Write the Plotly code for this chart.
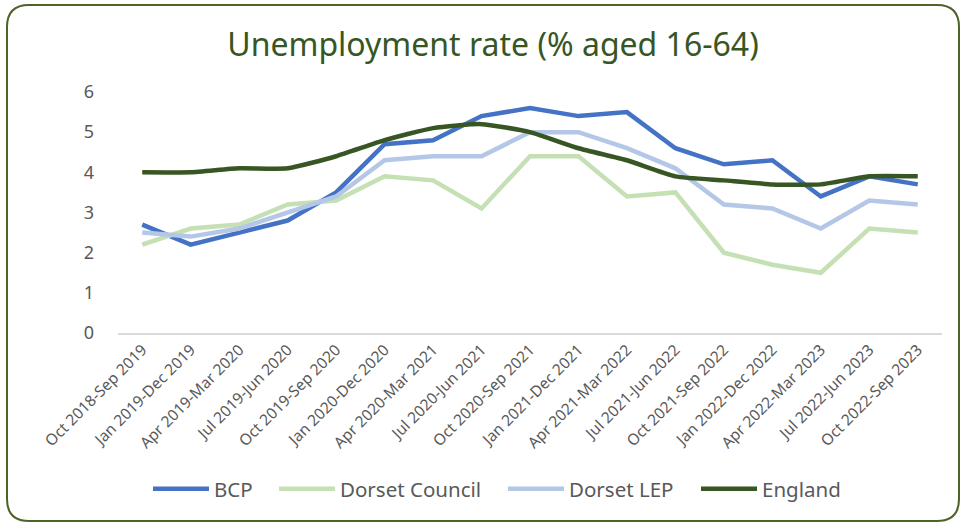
import plotly.graph_objects as go

periods = [
    "Oct 2018-Sep 2019", "Jan 2019-Dec 2019", "Apr 2019-Mar 2020", "Jul 2019-Jun 2020",
    "Oct 2019-Sep 2020", "Jan 2020-Dec 2020", "Apr 2020-Mar 2021", "Jul 2020-Jun 2021",
    "Oct 2020-Sep 2021", "Jan 2021-Dec 2021", "Apr 2021-Mar 2022", "Jul 2021-Jun 2022",
    "Oct 2021-Sep 2022", "Jan 2022-Dec 2022", "Apr 2022-Mar 2023", "Jul 2022-Jun 2023",
    "Oct 2022-Sep 2023",
]
bcp = [2.7, 2.2, 2.5, 2.8, 3.5, 4.7, 4.8, 5.4, 5.6, 5.4, 5.5, 4.6, 4.2, 4.3, 3.4, 3.9, 3.7]
dorset_council = [2.2, 2.6, 2.7, 3.2, 3.3, 3.9, 3.8, 3.1, 4.4, 4.4, 3.4, 3.5, 2.0, 1.7, 1.5, 2.6, 2.5]
dorset_lep = [2.5, 2.4, 2.6, 3.0, 3.4, 4.3, 4.4, 4.4, 5.0, 5.0, 4.6, 4.1, 3.2, 3.1, 2.6, 3.3, 3.2]
england = [4.0, 4.0, 4.1, 4.1, 4.4, 4.8, 5.1, 5.2, 5.0, 4.6, 4.3, 3.9, 3.8, 3.7, 3.7, 3.9, 3.9]

W, H = 962, 524
ML, MR, MT, MB = 118, 20, 92, 191
PW, PH = W - ML - MR, H - MT - MB

FONT = "Noto Sans"
GREY = "#595959"


def px_x(p):
    return (p - ML) / PW


def px_y(p):
    return (H - MB - p) / PH


fig = go.Figure()
# name, values, colour, line shape, legend id, legend left edge (px)
series = [
    ("BCP", bcp, "#4472C4", "linear", "legend", 148),
    ("Dorset Council", dorset_council, "#C5E0B4", "linear", "legend2", 274),
    ("Dorset LEP", dorset_lep, "#B4C7E7", "linear", "legend3", 503),
    ("England", england, "#375623", "spline", "legend4", 696),
]
legends = {}
for name, vals, col, shape, leg, lx in series:
    fig.add_trace(go.Scatter(
        x=periods, y=vals, name=name, mode="lines", legend=leg,
        line=dict(color=col, width=4.5, shape=shape, smoothing=0.5),
    ))
    legends[leg] = dict(
        orientation="h", x=px_x(lx), xanchor="left", y=px_y(489), yanchor="middle",
        font=dict(family=FONT, size=20.5, color=GREY), itemwidth=56,
        bgcolor="rgba(0,0,0,0)",
    )

# rounded outer frame, given in pixels and converted to paper units
x0, x1, y0, y1, r = 7, 959, 5, 521, 22
L, R = px_x(x0), px_x(x1)
T, B = px_y(y0), px_y(y1)
rx, ry = r / PW, r / PH
frame = (
    f"M {L + rx},{T} L {R - rx},{T} Q {R},{T} {R},{T - ry} "
    f"L {R},{B + ry} Q {R},{B} {R - rx},{B} "
    f"L {L + rx},{B} Q {L},{B} {L},{B + ry} "
    f"L {L},{T - ry} Q {L},{T} {L + rx},{T} Z"
)
fig.add_shape(type="path", path=frame, xref="paper", yref="paper",
              line=dict(color="#4F6228", width=2), layer="below")

fig.update_layout(
    width=W, height=H,
    margin=dict(l=ML, r=MR, t=MT, b=MB),
    paper_bgcolor="white", plot_bgcolor="white",
    title=dict(text="Unemployment rate (% aged 16-64)", x=493 / W, xanchor="center",
               y=1 - 45 / H, yanchor="middle", yref="container",
               font=dict(family=FONT, size=32, color="#375623")),
    font=dict(family=FONT, color=GREY),
    showlegend=True,
    xaxis=dict(type="category", range=[-0.5, 16.5], showgrid=False, showline=True,
               linecolor="#D9D9D9", linewidth=1.5, ticks="", tickangle=-45,
               tickfont=dict(family=FONT, size=15.5, color=GREY), zeroline=False),
    yaxis=dict(range=[0, 6], dtick=1, showgrid=False, showline=False, zeroline=False,
               ticks="", ticklabelstandoff=23,
               tickfont=dict(family=FONT, size=18, color=GREY)),
    **legends,
)

fig.write_html("out.html")
